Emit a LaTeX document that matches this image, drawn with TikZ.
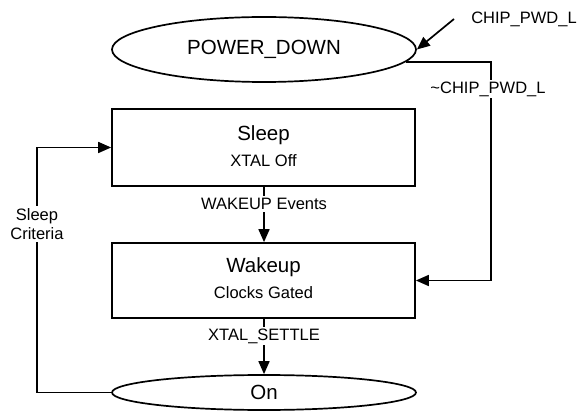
\documentclass[tikz,border=0pt]{standalone}
\usepackage{fontspec}
\setmainfont{Liberation Sans}
\usetikzlibrary{shapes.geometric,arrows.meta}
\begin{document}
\begin{tikzpicture}[x=1pt,y=-1pt,
  line width=1.7pt,
  arr/.style={-{Triangle[length=13pt,width=11pt]}},
  stateell/.style={draw,ellipse,inner sep=0pt,font=\fontsize{20.5}{24}\selectfont},
  statebox/.style={draw,rectangle,inner sep=0pt,minimum width=303pt},
  bigtxt/.style={inner sep=0pt,font=\fontsize{20.5}{24}\selectfont},
  smalltxt/.style={inner sep=1.5pt,font=\fontsize{16.5}{19}\selectfont},
  lbl/.style={fill=white,inner sep=2pt,font=\fontsize{16.5}{19}\selectfont,align=center}]
\useasboundingbox (0,0) rectangle (580,411);

\node[stateell,minimum width=304pt,minimum height=65pt] (pd) at (264,49.5) {POWER\_DOWN};
\node[statebox,minimum height=77pt] (sl) at (263.5,147.5) {};
\node[bigtxt] (slt) at (263.5,135) {Sleep};
\node[smalltxt] (sls) at (263.5,161) {XTAL Off};
\node[statebox,minimum height=75pt] (wk) at (263.5,280.5) {};
\node[bigtxt] (wkt) at (263.5,267) {Wakeup};
\node[smalltxt] (wks) at (263.5,293) {Clocks Gated};
\node[stateell,minimum width=304pt,minimum height=35pt] (on) at (264,392.5) {On};

\node[smalltxt] (chip) at (524,19) {CHIP\_PWD\_L};
\coordinate (cs) at (454,19);
\draw[arr] (cs) -- (pd.east);

\coordinate (rc) at (491,0);
\draw[arr] (pd.-5.4) -- (pd.-5.4 -| rc) |- (wk.east);
\node[lbl] (nchip) at (488,89) {\textasciitilde CHIP\_PWD\_L};

\draw[arr] (sl.south -| on.north) -- (wk.north -| on.north);
\node[lbl] (we) at (264,204) {WAKEUP Events};

\draw[arr] (wk.south -| on.north) -- (on.north);
\node[lbl] (xs) at (264,336) {XTAL\_SETTLE};

\coordinate (lc) at (37,0);
\draw[arr] (on.west) -- (on.west -| lc) -- (sl.west -| lc) -- (sl.west);
\node[lbl] (sc) at (37,224) {Sleep\\Criteria};
\end{tikzpicture}
\end{document}
